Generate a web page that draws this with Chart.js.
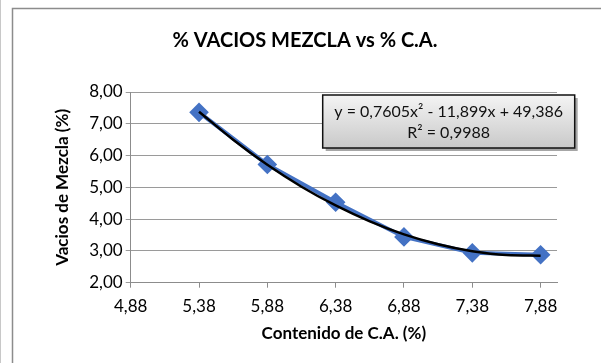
<!DOCTYPE html>
<html>
<head>
<meta charset="utf-8">
<script src="https://cdn.jsdelivr.net/npm/chart.js@4"></script>
<style>
  html, body { margin: 0; padding: 0; background: #fff; }
  #wrap { width: 601px; height: 363px; }
</style>
</head>
<body>
<div id="wrap"><canvas id="chart" width="601" height="363"></canvas></div>
<script>
// contenido de C.A. (%) y vacios de mezcla (%)
var contenidoCA = [5.38, 5.88, 6.38, 6.88, 7.38, 7.88];
var vaciosMezcla = [7.36, 5.72, 4.53, 3.44, 2.94, 2.88];

// linea de tendencia polinomica
var trendX = [5.38, 5.63, 5.88, 6.13, 6.38, 6.63, 6.88, 7.13, 7.38, 7.63, 7.88];
var trendY = [7.38, 6.50, 5.71, 5.02, 4.43, 3.93, 3.52, 3.21, 2.99, 2.87, 2.85];

var xTicks = [4.88, 5.38, 5.88, 6.38, 6.88, 7.38, 7.88];
var yTicks = [2, 3, 4, 5, 6, 7, 8];

var titulo = '% VACIOS MEZCLA vs % C.A.';
var trendText = ['y = 0,7605x\u00B2 - 11,899x + 49,386', 'R\u00B2 = 0,9988'];

var FONT = 'Lato, "Open Sans", sans-serif';

function coma(v) {
    return v.toFixed(2).replace('.', ',');
}

var pts = contenidoCA.map(function (x, i) { return { x: x, y: vaciosMezcla[i] }; });
var trendPts = trendX.map(function (x, i) { return { x: x, y: trendY[i] }; });

// marco, titulo y cuadro de la ecuacion
var extras = {
    id: 'extras',
    beforeDraw: function (chart) {
        var c = chart.ctx;
        c.save();
        c.fillStyle = '#fff';
        c.fillRect(0, 0, chart.width, chart.height);
        c.strokeStyle = '#c8c8c8';
        c.lineWidth = 1;
        c.beginPath();
        c.moveTo(0.5, 0);
        c.lineTo(0.5, chart.height);
        c.stroke();
        c.strokeStyle = '#8c8c8c';
        c.lineWidth = 1.5;
        c.beginPath();
        c.moveTo(12.5, chart.height);
        c.lineTo(12.5, 8.5);
        c.lineTo(chart.width, 8.5);
        c.stroke();
        c.fillStyle = '#000';
        c.font = 'bold 20px ' + FONT;
        c.textAlign = 'center';
        c.textBaseline = 'middle';
        c.fillText(titulo, 305, 41);
        c.restore();
    },
    afterDatasetsDraw: function (chart) {
        var c = chart.ctx;
        var a = chart.chartArea;
        var x0 = a.left + 192, y0 = a.top + 3, w = 252, h = 53;
        c.save();
        c.fillStyle = 'rgba(0,0,0,0.35)';
        c.fillRect(x0 + 3, y0 + 3, w, h);
        var g = c.createLinearGradient(0, y0, 0, y0 + h);
        g.addColorStop(0, '#f4f4f4');
        g.addColorStop(1, '#c9c9c9');
        c.fillStyle = g;
        c.fillRect(x0, y0, w, h);
        c.strokeStyle = '#111';
        c.lineWidth = 1.5;
        c.strokeRect(x0, y0, w, h);
        c.fillStyle = '#111';
        c.font = '16px ' + FONT;
        c.textAlign = 'center';
        c.textBaseline = 'middle';
        c.fillText(trendText[0], x0 + w / 2, y0 + 17);
        c.fillText(trendText[1], x0 + w / 2, y0 + 38);
        c.restore();
    }
};

var ctx = document.getElementById('chart').getContext('2d');
var chart = new Chart(ctx, {
    type: 'scatter',
    data: {
        datasets: [{
            label: 'Vacios de Mezcla',
            data: pts,
            showLine: true,
            borderColor: '#4472c4',
            backgroundColor: '#4472c4',
            borderWidth: 4,
            pointStyle: 'rectRot',
            pointRadius: 7,
            pointHoverRadius: 7,
            order: 2
        }, {
            label: 'Tendencia',
            data: trendPts,
            showLine: true,
            borderColor: '#000',
            borderWidth: 2.5,
            pointRadius: 0,
            cubicInterpolationMode: 'monotone',
            order: 1
        }]
    },
    options: {
        responsive: false,
        animation: false,
        layout: { padding: { top: 92, right: 44, bottom: 0, left: 0 } },
        plugins: {
            legend: { display: false },
            tooltip: { enabled: false },
            title: { display: false }
        },
        scales: {
            x: {
                type: 'linear',
                min: 4.88,
                max: 8.0,
                afterBuildTicks: function (scale) {
                    scale.ticks = xTicks.map(function (v) { return { value: v }; });
                },
                afterFit: function (scale) { scale.height = 80.3; },
                grid: { drawOnChartArea: false, drawTicks: true, tickLength: 5, color: '#8c8c8c' },
                border: { color: '#8c8c8c', width: 1 },
                ticks: {
                    color: '#000',
                    font: { family: FONT, size: 17 },
                    padding: 9,
                    maxRotation: 0,
                    autoSkip: false,
                    callback: function (v) { return coma(v); }
                },
                title: {
                    display: true,
                    text: 'Contenido de C.A. (%)',
                    color: '#000',
                    font: { family: FONT, size: 17, weight: 'bold' },
                    padding: { top: 0, bottom: 19 }
                }
            },
            y: {
                min: 2,
                max: 8,
                afterBuildTicks: function (scale) {
                    scale.ticks = yTicks.map(function (v) { return { value: v }; });
                },
                afterFit: function (scale) { scale.width = 130.7; },
                grid: { color: '#9a9a9a', tickLength: 5, lineWidth: 1 },
                border: { color: '#8c8c8c', width: 1 },
                ticks: {
                    color: '#000',
                    font: { family: FONT, size: 17 },
                    padding: 3,
                    callback: function (v) { return coma(v); }
                },
                title: {
                    display: true,
                    text: 'Vacios de Mezcla (%)',
                    color: '#000',
                    font: { family: FONT, size: 17, weight: 'bold' },
                    padding: { top: 52, bottom: 0 }
                }
            }
        }
    },
    plugins: [extras]
});
</script>
</body>
</html>
